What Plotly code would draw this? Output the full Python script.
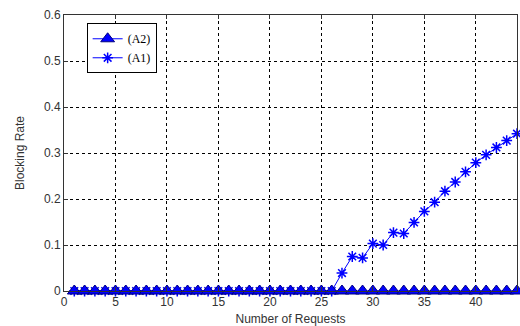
import plotly.graph_objects as go

requests = list(range(1, 45))
a2_rate = [0.0] * 44
a1_rate = [0.0] * 26 + [0.039, 0.075, 0.072, 0.103, 0.100, 0.127, 0.125, 0.149,
                        0.173, 0.193, 0.217, 0.237, 0.259, 0.279, 0.296, 0.312,
                        0.327, 0.342]
x_ticks = [0, 5, 10, 15, 20, 25, 30, 35, 40]
y_ticks = [0, 0.1, 0.2, 0.3, 0.4, 0.5, 0.6]

fig = go.Figure()
fig.add_trace(go.Scatter(
    x=requests, y=a1_rate, name="(A1)", mode="lines+markers",
    line=dict(color="#0000ff", width=1),
    marker=dict(symbol="asterisk-open", size=9, color="#0000ff",
                line=dict(color="#0000ff", width=1.5)),
    legendrank=2, cliponaxis=False,
))
fig.add_trace(go.Scatter(
    x=requests, y=a2_rate, name="(A2)", mode="lines+markers",
    line=dict(color="#0000ff", width=1),
    marker=dict(symbol="triangle-up", size=12, color="#0000ff",
                line=dict(color="#000080", width=1)),
    legendrank=1, cliponaxis=False,
))

axis_common = dict(
    showgrid=True, gridcolor="#000000", griddash="3px,3px", gridwidth=1,
    showline=True, linecolor="#333333", linewidth=1, mirror="ticks",
    ticks="inside", ticklen=4, tickcolor="#333333",
    tickfont=dict(family="Liberation Sans, Arial", size=12, color="#333333"),
    zeroline=False, automargin=False,
)

fig.update_layout(
    width=520, height=326,
    margin=dict(l=64, r=3, t=15, b=35),
    paper_bgcolor="white", plot_bgcolor="white",
    showlegend=True,
    legend=dict(
        x=0.05, y=0.97, xanchor="left", yanchor="top",
        bgcolor="white", bordercolor="#000000", borderwidth=1,
        font=dict(family="Liberation Serif, Times New Roman", size=12, color="#000000"),
        tracegroupgap=0, itemwidth=30,
    ),
    xaxis=dict(range=[0, 44], tickvals=x_ticks,
               title=dict(text="Number of Requests", standoff=8,
                          font=dict(family="Liberation Sans, Arial", size=12, color="#333333")),
               **axis_common),
    yaxis=dict(range=[0, 0.6], tickvals=y_ticks,
               ticktext=["0", "0.1", "0.2", "0.3", "0.4", "0.5", "0.6"],
               title=dict(text="Blocking Rate", standoff=16,
                          font=dict(family="Liberation Sans, Arial", size=12, color="#333333")),
               **axis_common),
)

fig.write_html("out.html", config={"displayModeBar": False},
               post_script="document.body.style.margin='0';")
